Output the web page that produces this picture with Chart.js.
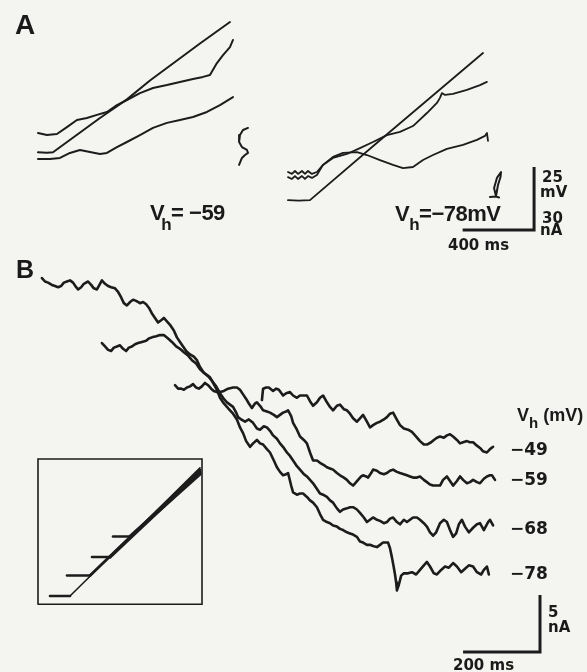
<!DOCTYPE html>
<html><head><meta charset="utf-8">
<script src="https://cdn.jsdelivr.net/npm/chart.js@4.4.1/dist/chart.umd.min.js"></script>
<style>
html,body{margin:0;padding:0;background:#f4f4f1;}
#wrap{position:relative;width:587px;height:672px;overflow:hidden;background:#f4f4f1;}
canvas{position:absolute;left:0;top:0;}
.t{position:absolute;white-space:nowrap;line-height:1;color:#1a1a1a;font-family:"Liberation Sans",Arial,sans-serif;font-weight:bold;}
.d{font-family:"DejaVu Sans",sans-serif;}
.sub{position:relative;font-size:17px;}
</style></head>
<body><div id="wrap"><canvas id="c" width="587" height="672"></canvas>
<div class="t" style="left:15px;top:11px;font-size:28px">A</div>
<div class="t" style="left:16px;top:257px;font-size:25px">B</div>
<div class="t" style="left:150px;top:202px;font-size:22px;letter-spacing:-0.5px">V<span class="sub" style="top:10px;margin-left:-3px">h</span>= −59</div>
<div class="t" style="left:395px;top:203px;font-size:22px;letter-spacing:-0.5px">V<span class="sub" style="top:9px">h</span>=−78mV</div>
<div class="t d" style="left:542px;top:170px;font-size:15px">25</div>
<div class="t d" style="left:540px;top:185px;font-size:15px">mV</div>
<div class="t d" style="left:542px;top:211px;font-size:15px">30</div>
<div class="t d" style="left:540px;top:223px;font-size:15px">nA</div>
<div class="t d" style="left:448px;top:238px;font-size:15px">400 ms</div>
<div class="t" style="left:517px;top:406px;font-size:18px">V<span class="sub" style="top:7px;font-size:15px">h</span> (mV)</div>
<div class="t d" style="left:510px;top:441px;font-size:17px">−49</div>
<div class="t d" style="left:510px;top:471px;font-size:17px">−59</div>
<div class="t d" style="left:510px;top:520px;font-size:17px">−68</div>
<div class="t d" style="left:510px;top:565px;font-size:17px">−78</div>
<div class="t d" style="left:548px;top:605px;font-size:15px">5</div>
<div class="t d" style="left:548px;top:620px;font-size:15px">nA</div>
<div class="t d" style="left:453px;top:658px;font-size:15px">200 ms</div>
</div>
<script>
// ---------- Panel A, left (Vh = -59 mV): time in ms, voltage in mV, current in nA
const AL_RAMP_T = [0, 50, 84, 347, 498, 627, 907, 1075];
const AL_RAMP_V = [-59.0, -59.2, -59.0, -45.4, -38.0, -30.5, -15.8, -7.3];
const AL_I1_T = [0, 50, 106, 162, 218, 274, 330, 386, 442, 498, 571, 644, 722, 795, 868, 924, 963, 1002, 1036, 1075, 1092];
const AL_I1 = [46.2, 45.2, 45.7, 49.0, 52.4, 53.3, 54.8, 56.2, 59.5, 61.9, 65.2, 67.6, 69.0, 70.5, 71.9, 72.9, 73.8, 79.5, 83.3, 87.1, 90.5];
const AL_I2_T = [0, 67, 123, 179, 235, 291, 347, 386, 442, 498, 571, 644, 722, 795, 868, 946, 1019, 1092];
const AL_I2 = [33.8, 33.8, 34.3, 36.7, 38.1, 37.1, 36.2, 36.7, 39.5, 41.9, 45.2, 48.6, 51.0, 52.4, 53.8, 56.2, 59.5, 63.3];
const AL_TAIL_T = [1176, 1148, 1131, 1126, 1142, 1170, 1176, 1159, 1142, 1126];
const AL_TAIL = [48.6, 47.6, 45.2, 41.9, 39.5, 38.1, 36.7, 35.7, 34.3, 31.0];

// ---------- Panel A, right (Vh = -78 mV)
const AR_RAMP_T = [0, 60, 123, 515, 1092];
const AR_RAMP_V = [-78.0, -78.2, -78.0, -54.2, -19.6];
const AR_I1_T = [0, 22, 39, 56, 78, 95, 112, 134, 162, 196, 252, 330, 403, 476, 554, 627, 700, 778, 834, 851, 862, 879, 924, 1002, 1075, 1114];
const AR_I1 = [27.6, 26.7, 28.1, 26.7, 28.1, 26.7, 28.1, 26.7, 27.6, 31.0, 34.3, 36.2, 39.0, 41.9, 45.2, 46.7, 49.5, 55.7, 60.5, 62.9, 65.2, 64.3, 64.8, 66.7, 69.0, 70.5];
const AR_I2_T = [0, 22, 39, 56, 78, 95, 112, 134, 162, 196, 252, 308, 386, 442, 515, 588, 644, 700, 756, 812, 890, 980, 1058, 1103, 1114, 1120];
const AR_I2 = [25.2, 24.3, 25.7, 24.3, 25.7, 24.3, 25.7, 24.8, 26.2, 31.0, 34.8, 36.7, 37.1, 35.7, 33.3, 31.0, 29.5, 30.0, 33.3, 35.7, 38.6, 40.5, 42.9, 44.8, 46.2, 42.4];
const AR_TAIL_T = [1131, 1165, 1182, 1165, 1154, 1170, 1193, 1190, 1176, 1165];
const AR_TAIL = [15.7, 15.9, 15.5, 15.9, 20.0, 24.8, 27.6, 25.2, 21.4, 16.2];

// scale bar A: 400 ms, 30 nA (= 25 mV)
const SCALE_A = { ms: 400, nA: 30, mV: 25, endMs: 1378, baseNA: 0 };

// ---------- Panel B: currents (nA) vs time (ms) for four holding potentials
const VH_LEVELS = [-49, -59, -68, -78];
const B_T_49 = [577,580,588,595,606,614,621,632,640,650,658,668,676,684,694,702,710,720,728,736,746,754,762,772,780,790,798,806,814,824,832,840,850,858,866,876,884,894,902,910,918,926,936,946,957,967,978,988,998,1006,1017,1024,1032,1040,1050,1058,1066,1074,1084,1092,1100,1110,1118,1126,1136,1144,1152,1162,1170,1178];
const B_I_49 = [22.1,23.1,23.2,23.2,22.9,23.1,23.0,22.5,22.7,22.8,22.5,22.3,22.5,22.5,22.5,22.0,21.6,21.9,22.3,22.5,21.9,21.5,21.2,21.6,21.7,21.3,21.2,20.9,20.5,20.2,20.5,20.8,20.2,19.7,19.9,20.1,20.2,20.4,20.6,20.9,21.0,20.5,19.9,19.6,19.5,19.3,18.9,18.5,18.2,18.2,18.4,18.6,18.8,18.9,18.8,19.0,19.1,18.9,18.6,18.3,18.4,18.5,18.4,18.4,18.1,17.9,17.6,17.5,17.8,18.0];
const B_T_59 = [351,359,367,374,382,390,398,406,413,421,429,437,445,452,460,468,478,489,502,512,520,528,536,543,551,559,564,572,580,590,598,608,616,624,632,640,645,653,658,668,676,686,694,702,710,720,728,738,746,754,762,772,780,790,798,806,814,822,827,835,840,848,853,861,866,876,884,894,902,910,918,928,936,946,954,962,970,980,988,998,1006,1014,1022,1032,1040,1048,1058,1066,1074,1084,1092,1100,1110,1118,1126,1136,1144,1154,1162,1170,1175,1183];
const B_I_59 = [23.4,23.1,23.1,23.0,23.2,23.3,23.5,23.2,23.1,23.3,23.6,23.4,23.1,22.9,22.8,22.8,22.9,23.1,23.2,23.2,23.0,22.6,22.2,21.8,21.4,21.8,21.9,21.6,21.2,21.1,21.0,20.8,20.6,20.8,21.0,21.1,21.2,20.7,20.1,19.5,18.9,18.6,18.3,17.5,16.8,16.8,16.6,16.4,16.2,16.1,16.0,15.7,15.5,15.3,15.1,14.8,14.6,14.9,15.1,15.4,15.5,15.4,15.3,15.7,16.0,15.9,15.7,15.6,15.7,15.9,16.0,15.8,15.7,15.6,15.5,15.4,15.3,15.3,15.4,15.1,14.9,14.7,14.6,14.6,14.6,15.1,15.4,15.0,14.6,15.0,15.4,15.1,14.8,14.9,15.1,14.9,14.8,15.2,15.4,15.5,15.5,15.1];
const B_T_68 = [161,169,177,185,192,200,208,216,224,231,239,247,255,265,276,283,291,302,312,322,333,343,354,364,374,385,395,406,416,426,437,447,458,468,478,486,494,502,510,515,523,533,543,554,564,572,582,590,598,606,616,624,634,642,650,658,668,676,686,694,702,710,718,728,736,746,754,762,772,780,788,798,806,814,824,832,842,850,858,866,876,884,894,902,910,918,928,936,946,954,962,970,980,988,998,1006,1014,1022,1030,1040,1050,1058,1066,1074,1082,1089,1097,1105,1115,1126,1136,1144,1154,1165,1170,1178];
const B_I_68 = [27.1,26.8,26.5,26.4,26.7,26.8,26.9,26.6,26.4,26.7,26.8,27.0,27.1,27.2,27.3,27.5,27.6,27.7,27.8,27.8,27.5,27.2,26.8,26.6,26.3,26.0,25.6,25.3,24.8,24.5,24.2,23.8,23.3,22.7,22.2,21.9,21.7,21.5,21.0,20.6,20.4,20.2,20.4,20.1,19.6,19.5,19.8,19.7,19.4,19.0,18.7,18.3,17.9,17.5,17.2,16.8,16.3,16.0,15.6,15.4,15.1,14.8,14.4,13.9,13.8,13.6,13.3,13.1,12.6,12.3,12.5,12.6,12.7,12.7,12.5,12.2,11.8,11.4,11.6,11.8,11.6,11.5,11.3,11.4,11.7,11.8,11.4,11.2,11.6,11.4,11.6,11.8,11.8,11.6,11.3,11.0,10.5,10.2,10.5,11.3,11.6,11.4,10.7,10.1,10.4,11.2,11.6,11.0,10.5,10.9,11.2,11.3,10.7,11.4,11.6,11.1];
const B_T_78 = [5,13,21,31,39,47,55,62,70,78,86,94,99,107,114,125,133,140,148,156,161,169,177,185,195,203,211,218,226,234,242,250,260,268,276,283,291,299,307,315,322,330,338,348,356,364,372,380,390,400,408,416,426,434,442,450,460,468,478,486,494,502,512,520,528,536,546,554,564,572,580,590,598,608,616,624,632,640,645,653,658,668,676,684,694,702,710,720,728,736,746,754,762,772,780,788,798,806,814,824,832,840,850,858,866,876,884,892,900,905,910,915,920,923,926,928,933,939,946,957,967,978,988,998,1006,1014,1024,1032,1043,1053,1063,1074,1084,1095,1105,1115,1126,1136,1147,1154,1162,1167];
const B_I_78 = [32.8,32.5,32.4,32.2,32.1,32.0,32.1,32.4,32.5,32.6,32.4,32.0,31.8,32.0,32.3,32.5,32.2,31.9,31.8,32.3,32.6,32.3,32.1,32.0,31.9,31.6,31.1,30.6,30.4,30.7,30.9,30.8,30.6,30.7,30.5,30.2,29.7,29.3,28.9,29.1,29.3,29.0,28.7,28.2,27.6,27.2,26.8,26.4,26.1,25.9,25.6,25.0,24.5,24.3,24.1,23.6,23.0,22.3,21.8,21.5,21.2,20.9,20.4,19.7,19.2,18.5,18.0,18.3,18.6,18.3,18.2,17.8,17.5,16.8,16.2,15.8,15.5,15.6,15.7,14.6,14.0,13.8,13.9,13.9,13.6,13.3,13.1,12.7,12.1,11.6,11.4,11.3,11.1,11.0,10.8,10.7,10.5,10.4,10.3,10.1,9.7,9.6,9.4,9.4,9.3,9.2,9.4,9.6,9.6,9.6,9.1,8.3,7.4,6.8,6.1,5.4,5.9,6.7,6.9,6.9,7.0,6.8,7.2,7.6,7.9,7.5,6.9,6.8,7.2,7.5,7.4,7.8,7.5,7.0,7.3,7.6,7.5,7.0,6.8,7.2,7.5,6.8];

// scale bar B: 200 ms, 5 nA
const SCALE_B = { ms: 200, nA: 5, endMs: 1300, baseNA: 0 };

// ---------- Inset: voltage protocol (mV vs ms), steps at each holding potential then ramp
const INSET_T_RANGE = [0, 1640];
const INSET_V_RANGE = [-82, -11.2];
const IN_STEP_START = [750, 540, 290, 120];   // for -49, -59, -68, -78
const IN_RAMP_START = [920, 720, 520, 320];
const IN_RAMP_END_T = 1620;
const IN_RAMP_END_V = [-18.5, -17.5, -16.5, -15.5];
const IN_RAMP_WIDTH = [3.4, 3.2, 2.8, 1.6];

const INK = '#1c1c1c';
const pts = (T, Y) => T.map((t, i) => ({ x: t, y: Y[i] }));
function line(data, xAxisID, yAxisID, w) {
  return { data, xAxisID, yAxisID, borderColor: INK, borderWidth: w, pointRadius: 0,
           tension: 0, fill: false, borderJoinStyle: 'round', borderCapStyle: 'round' };
}
const datasets = [];
// Panel A left
datasets.push(line(pts(AL_RAMP_T, AL_RAMP_V), 'xAL', 'yAV', 2.0));
datasets.push(line(pts(AL_I1_T, AL_I1), 'xAL', 'yAI', 2.0));
datasets.push(line(pts(AL_I2_T, AL_I2), 'xAL', 'yAI', 2.0));
datasets.push(line(pts(AL_TAIL_T, AL_TAIL), 'xAL', 'yAI', 2.0));
// Panel A right
datasets.push(line(pts(AR_RAMP_T, AR_RAMP_V), 'xAR', 'yAV', 1.8));
datasets.push(line(pts(AR_I1_T, AR_I1), 'xAR', 'yAI', 1.8));
datasets.push(line(pts(AR_I2_T, AR_I2), 'xAR', 'yAI', 1.8));
datasets.push(line(pts(AR_TAIL_T, AR_TAIL), 'xAR', 'yAI', 2.0));
// scale bar A
datasets.push(Object.assign(line([
  { x: SCALE_A.endMs - SCALE_A.ms, y: SCALE_A.baseNA },
  { x: SCALE_A.endMs, y: SCALE_A.baseNA },
  { x: SCALE_A.endMs, y: SCALE_A.baseNA + SCALE_A.nA }], 'xAR', 'yAI', 3), { borderCapStyle: 'butt', borderJoinStyle: 'miter' }));
// Panel B
[[B_T_49, B_I_49], [B_T_59, B_I_59], [B_T_68, B_I_68], [B_T_78, B_I_78]].forEach(([T, I]) => {
  datasets.push(line(pts(T, I), 'xB', 'yB', 2.6));
});
datasets.push(Object.assign(line([
  { x: SCALE_B.endMs - SCALE_B.ms, y: SCALE_B.baseNA },
  { x: SCALE_B.endMs, y: SCALE_B.baseNA },
  { x: SCALE_B.endMs, y: SCALE_B.baseNA + SCALE_B.nA }], 'xB', 'yB', 3), { borderCapStyle: 'butt', borderJoinStyle: 'miter' }));
// Inset frame
datasets.push(Object.assign(line([
  { x: INSET_T_RANGE[0], y: INSET_V_RANGE[0] }, { x: INSET_T_RANGE[1], y: INSET_V_RANGE[0] },
  { x: INSET_T_RANGE[1], y: INSET_V_RANGE[1] }, { x: INSET_T_RANGE[0], y: INSET_V_RANGE[1] },
  { x: INSET_T_RANGE[0], y: INSET_V_RANGE[0] }], 'xIn', 'yIn', 1.6), { borderJoinStyle: 'miter' }));
// Inset protocols
VH_LEVELS.forEach((v, i) => {
  datasets.push(line([
    { x: IN_STEP_START[i], y: v }, { x: IN_RAMP_START[i], y: v }], 'xIn', 'yIn', 2.6));
  datasets.push(line([
    { x: IN_RAMP_START[i], y: v }, { x: IN_RAMP_END_T, y: IN_RAMP_END_V[i] }], 'xIn', 'yIn', IN_RAMP_WIDTH[i]));
});

const sc = (axis, min, max) => ({ type: 'linear', axis, display: false, min, max, bounds: 'data' });
new Chart(document.getElementById('c'), {
  type: 'line',
  data: { datasets },
  options: {
    responsive: false, maintainAspectRatio: false, animation: false,
    layout: { padding: 0 },
    plugins: { legend: { display: false }, tooltip: { enabled: false } },
    events: [],
    scales: {
      x: sc('x', 0, 1), y: sc('y', 0, 1),
      xAL: sc('x', -212.8, 3074.4),
      xAR: sc('x', -1612.8, 1674.4),
      yAI: sc('y', -210.48, 109.52),
      yAV: sc('y', -265.23, 1.44),
      xB: sc('x', -104, 1422.2),
      yB: sc('y', -1.754, 57.193),
      xIn: sc('x', -380, 5490),
      yIn: sc('y', -115.07, 212.73)
    }
  }
});
</script>
</body></html>
